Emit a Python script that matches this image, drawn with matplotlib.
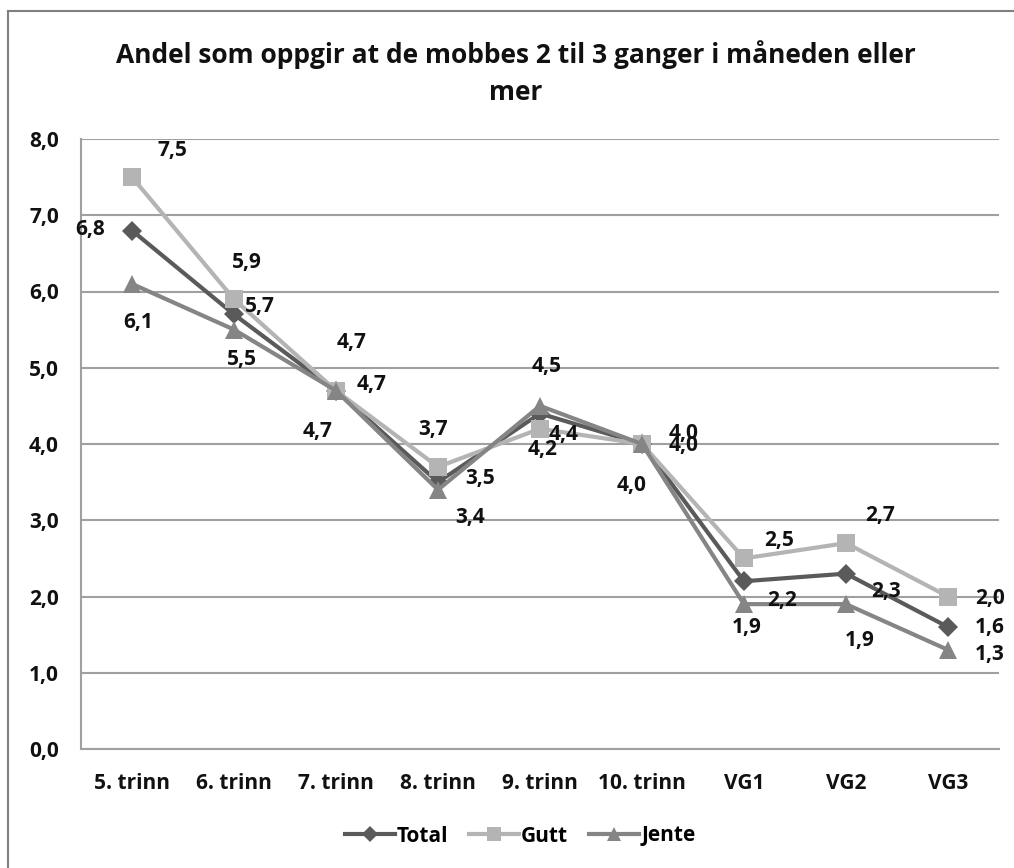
import matplotlib
matplotlib.use("Agg")
import matplotlib.pyplot as plt
from matplotlib.lines import Line2D

plt.rcParams['font.family'] = ['Open Sans', 'DejaVu Sans']
plt.rcParams['font.weight'] = 'bold'

# data
categories = ["5. trinn", "6. trinn", "7. trinn", "8. trinn", "9. trinn",
              "10. trinn", "VG1", "VG2", "VG3"]
total = [6.8, 5.7, 4.7, 3.5, 4.4, 4.0, 2.2, 2.3, 1.6]
gutt = [7.5, 5.9, 4.7, 3.7, 4.2, 4.0, 2.5, 2.7, 2.0]
jente = [6.1, 5.5, 4.7, 3.4, 4.5, 4.0, 1.9, 1.9, 1.3]
yticks = [0, 1, 2, 3, 4, 5, 6, 7, 8]

# label offsets in pixels (dx, dy), dy up
off_total = [(-42, 1), (26, 8), (36, 6), (42, 4), (24, -21), (42, -2), (38, -19), (40, -18), (42, -1)]
off_gutt = [(40, 27), (13, 37), (16, 48), (-5, 37), (3, -21), (42, 11), (35, 18), (34, 28), (42, -2)]
off_jente = [(6, -39), (8, -30), (-18, -41), (32, -28), (7, 39), (-10, -41), (3, -23), (14, -36), (42, -5)]

series = [
    ("Total", total, "#5a5a5a", "D", 10, off_total),
    ("Gutt", gutt, "#b4b4b4", "s", 13, off_gutt),
    ("Jente", jente, "#858585", "^", 13, off_jente),
]

fig = plt.figure(figsize=(10.14, 8.68), dpi=100)
ax = fig.add_axes([81 / 1014, 1 - 749 / 868, 918 / 1014, 610 / 868])

x = list(range(len(categories)))
for name, vals, col, mk, ms, offs in series:
    ax.plot(x, vals, color=col, lw=3, marker=mk, markersize=ms,
            markeredgewidth=0, label=name, zorder=3)
    for xi, v, (dx, dy) in zip(x, vals, offs):
        ax.annotate(f"{v:.1f}".replace(".", ","), (xi, v), xytext=(dx, dy),
                    textcoords="offset pixels", ha="center", va="center",
                    fontsize=15, fontweight="bold", color="#111111", zorder=4)

ax.set_xlim(-0.5, len(categories) - 0.5)
ax.set_ylim(0, 8)
ax.set_yticks(yticks)
ax.set_yticklabels([f"{t:.1f}".replace(".", ",") for t in yticks])
ax.set_xticks(x)
ax.set_xticklabels(categories)
ax.tick_params(length=0, labelsize=15, colors="#111111")
ax.tick_params(axis="y", pad=16)
ax.tick_params(axis="x", pad=17)
for lab in ax.get_xticklabels() + ax.get_yticklabels():
    lab.set_fontweight("bold")

ax.grid(axis="y", color="#a0a0a0", lw=1.5)
ax.set_axisbelow(True)
for s in ["top", "right"]:
    ax.spines[s].set_visible(False)
ax.spines["left"].set_color("#a0a0a0")
ax.spines["bottom"].set_color("#a0a0a0")
ax.spines["left"].set_linewidth(1.5)
ax.spines["bottom"].set_linewidth(1.5)

fig.text(516 / 1014, 1 - 55 / 868, "Andel som oppgir at de mobbes 2 til 3 ganger i måneden eller",
         ha="center", va="center", fontsize=19, fontweight="bold", color="#111111")
fig.text(516 / 1014, 1 - 92 / 868, "mer",
         ha="center", va="center", fontsize=19, fontweight="bold", color="#111111")

leg = fig.legend(loc="center", bbox_to_anchor=(520 / 1014, 1 - 836 / 868), ncol=3,
                 frameon=False, fontsize=15, handlelength=2.4, columnspacing=1.0,
                 handletextpad=0.1, markerscale=0.8)

# outer chart frame (left and top edges visible)
fig.add_artist(Line2D([8 / 1014, 8 / 1014], [0, 1 - 11 / 868], color="#808080", lw=1.5))
fig.add_artist(Line2D([8 / 1014, 1], [1 - 11 / 868, 1 - 11 / 868], color="#808080", lw=1.5))

fig.savefig("out.png", dpi=100)
